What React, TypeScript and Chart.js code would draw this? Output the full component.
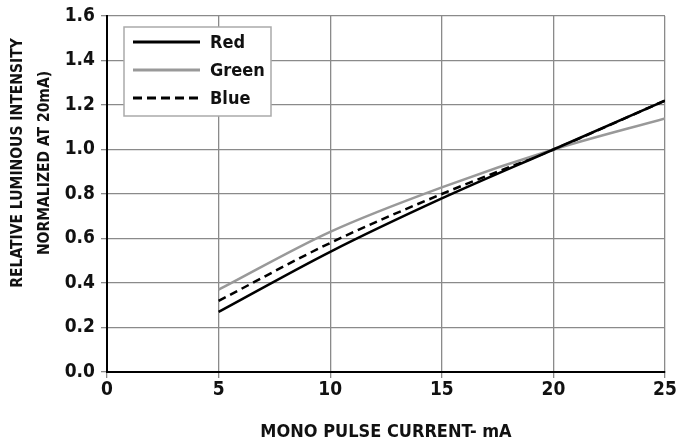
import React, { useEffect, useRef } from "react";
import { Chart, registerables } from "chart.js";

Chart.register(...registerables);

const currents = [5, 10, 15, 20, 25];
const redValues = [0.27, 0.54, 0.78, 1.0, 1.22];
const greenValues = [0.37, 0.63, 0.83, 1.0, 1.14];
const blueValues = [0.32, 0.58, 0.8, 1.0, 1.22];
const seriesNames = ["Red", "Green", "Blue"];
const xTitle = "MONO PULSE CURRENT- mA";
const yTitle = ["RELATIVE LUMINOUS INTENSITY", "NORMALIZED AT 20mA)"];

const FONT = "'DejaVu Sans Condensed', 'DejaVu Sans', sans-serif";

const extras = {
  id: "extras",
  afterDraw(chart: any) {
    const ctx = chart.ctx;
    ctx.save();
    ctx.fillStyle = "#111";
    ctx.font = `bold 15.5px ${FONT}`;
    ctx.textAlign = "center";
    ctx.textBaseline = "middle";
    ctx.translate(0, 163);
    ctx.rotate(-Math.PI / 2);
    ctx.fillText(yTitle[0], 0, 18);
    ctx.fillText(yTitle[1], 0, 45);
    ctx.restore();

    ctx.save();
    const left = chart.chartArea.left + 17;
    const top = chart.chartArea.top + 11;
    const w = 147;
    const h = 89;
    ctx.fillStyle = "#fff";
    ctx.fillRect(left, top, w, h);
    ctx.strokeStyle = "#aaa";
    ctx.lineWidth = 1.5;
    ctx.strokeRect(left, top, w, h);
    chart.data.datasets.forEach((ds: any, i: number) => {
      const y = top + 15 + i * 28;
      ctx.beginPath();
      ctx.strokeStyle = ds.borderColor;
      ctx.lineWidth = 3;
      ctx.setLineDash(ds.borderDash ? [9, 5] : []);
      ctx.moveTo(left + 9, y);
      ctx.lineTo(left + 76, y);
      ctx.stroke();
      ctx.setLineDash([]);
      ctx.fillStyle = "#111";
      ctx.font = `bold 18px ${FONT}`;
      ctx.textBaseline = "middle";
      ctx.textAlign = "left";
      ctx.fillText(ds.label, left + 86, y + 1);
    });
    ctx.restore();
  },
};

export default function App() {
  const ref = useRef<HTMLCanvasElement | null>(null);
  useEffect(() => {
    if (!ref.current) return;
    const mk = (vals: number[]) => currents.map((x, i) => ({ x, y: vals[i] }));
    const chart = new Chart(ref.current, {
      type: "line",
      data: {
        datasets: [
          { label: seriesNames[0], data: mk(redValues), borderColor: "#000", borderWidth: 2.5, pointRadius: 0, cubicInterpolationMode: "monotone" },
          { label: seriesNames[1], data: mk(greenValues), borderColor: "#999", borderWidth: 2.5, pointRadius: 0, cubicInterpolationMode: "monotone" },
          { label: seriesNames[2], data: mk(blueValues), borderColor: "#000", borderWidth: 2.5, borderDash: [8, 5], pointRadius: 0, cubicInterpolationMode: "monotone" },
        ],
      } as any,
      options: {
        animation: false,
        responsive: false,
        maintainAspectRatio: false,
        layout: { padding: { top: 16, right: 11, left: 0, bottom: 0 } },
        plugins: { legend: { display: false }, tooltip: { enabled: false } },
        scales: {
          x: {
            type: "linear",
            min: 0,
            max: 25,
            ticks: { stepSize: 5, color: "#111", font: { family: FONT, size: 19, weight: "bold" }, padding: 1 },
            grid: { color: "#8a8a8a", lineWidth: 1.3, tickLength: 6 },
            border: { color: "#000", width: 2 },
            title: { display: true, text: xTitle, color: "#111", font: { family: FONT, size: 18, weight: "bold" }, padding: { top: 18, bottom: 0 } },
            afterFit: (s: any) => { s.height = 71; s.paddingLeft = 0; s.paddingRight = 0; },
          },
          y: {
            min: 0,
            max: 1.6,
            ticks: { stepSize: 0.2, color: "#111", font: { family: FONT, size: 19, weight: "bold" }, padding: 6, callback: (v: any) => Number(v).toFixed(1) },
            grid: { color: "#8a8a8a", lineWidth: 1.3, tickLength: 6 },
            border: { color: "#000", width: 2 },
            afterFit: (s: any) => { s.width = 107; s.paddingTop = 0; s.paddingBottom = 0; },
          },
        },
      } as any,
      plugins: [extras],
    });
    return () => chart.destroy();
  }, []);
  return (
    <div style={{ position: "fixed", left: 0, top: 0, width: 676, height: 443, background: "#fff" }}>
      <canvas ref={ref} width={676} height={443} style={{ width: 676, height: 443 }} />
    </div>
  );
}
